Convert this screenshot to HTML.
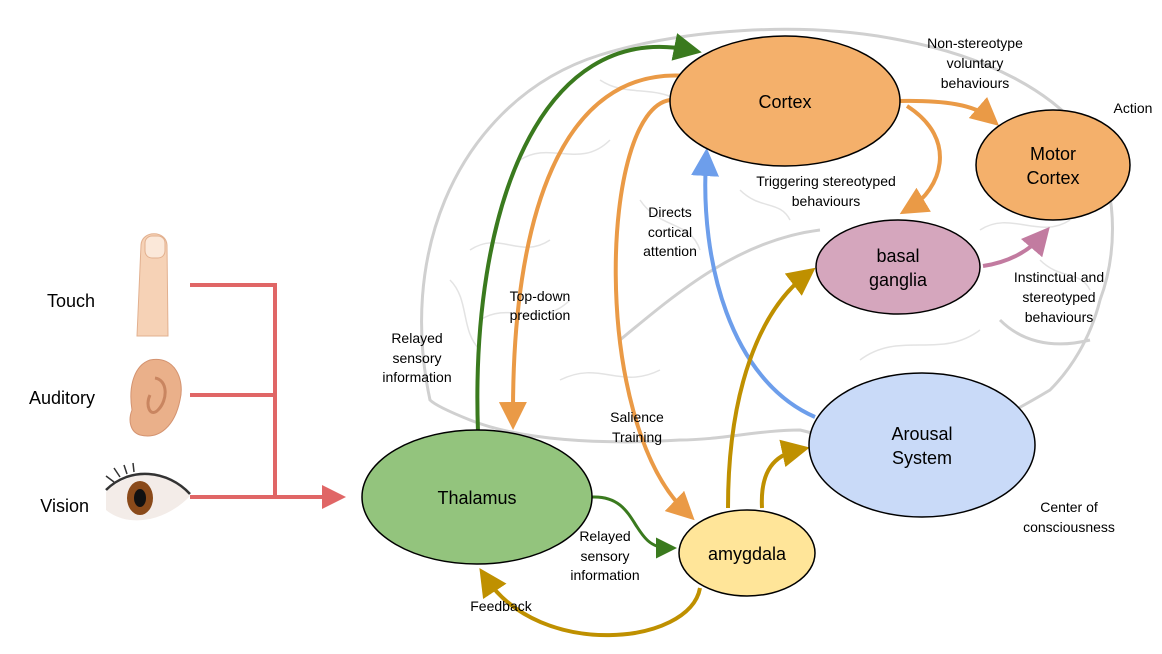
<!DOCTYPE html>
<html><head><meta charset="utf-8"><style>
html,body{margin:0;padding:0;background:#fff;}
svg{display:block;font-family:"Liberation Sans",Arial,sans-serif;}
</style></head><body>
<svg width="1162" height="654" viewBox="0 0 1162 654" xmlns="http://www.w3.org/2000/svg">
<defs>
<marker id="aG" markerWidth="7" markerHeight="7" refX="4" refY="3.5" orient="auto" markerUnits="strokeWidth"><path d="M0,0 L7,3.5 L0,7 Z" fill="#3a7a1e"/></marker>
<marker id="aO" markerWidth="7" markerHeight="7" refX="4" refY="3.5" orient="auto" markerUnits="strokeWidth"><path d="M0,0 L7,3.5 L0,7 Z" fill="#ea9a46"/></marker>
<marker id="aB" markerWidth="7" markerHeight="7" refX="4" refY="3.5" orient="auto" markerUnits="strokeWidth"><path d="M0,0 L7,3.5 L0,7 Z" fill="#6d9eeb"/></marker>
<marker id="aY" markerWidth="7" markerHeight="7" refX="4" refY="3.5" orient="auto" markerUnits="strokeWidth"><path d="M0,0 L7,3.5 L0,7 Z" fill="#bf9000"/></marker>
<marker id="aP" markerWidth="7" markerHeight="7" refX="4" refY="3.5" orient="auto" markerUnits="strokeWidth"><path d="M0,0 L7,3.5 L0,7 Z" fill="#c27ba0"/></marker>
<marker id="aR" markerWidth="6" markerHeight="6" refX="4" refY="3" orient="auto" markerUnits="strokeWidth"><path d="M0,0 L6,3 L0,6 Z" fill="#e06666"/></marker>
</defs>
<!-- brain outline -->
<g fill="none" stroke="#d0d0d0" stroke-width="3">
<path d="M430,400 C415,330 420,260 445,200 C470,140 520,80 600,55 C680,30 800,20 900,40 C980,55 1060,90 1095,150 C1120,200 1115,260 1100,300 C1090,340 1070,370 1050,390 C1000,420 960,440 920,440 C870,450 840,440 800,430 C760,430 720,440 680,440 C600,445 520,440 470,420 C450,412 435,405 430,400 Z"/>
<path d="M620,340 C680,290 740,240 820,230" />
<path d="M1000,320 C1020,340 1050,350 1090,340"/>
</g>
<g fill="none" stroke="#e3e3e3" stroke-width="1.5">
<path d="M470,250 C500,230 520,260 550,240 M480,320 C510,300 540,330 570,300 M520,160 C550,140 580,170 610,140 M640,200 C660,230 690,220 700,250 M560,380 C600,360 620,390 660,370 M860,360 C900,330 940,360 980,330 M980,230 C1010,210 1040,240 1070,220 M600,80 C630,100 660,80 690,110 M740,190 C760,210 780,200 790,220 M840,400 C870,380 900,400 930,380 M1040,260 C1060,280 1080,270 1090,290 M450,280 C470,300 460,330 480,350"/>
</g>
<!-- red lines -->
<g stroke="#e06666" stroke-width="4" fill="none">
<path d="M190,285 H275 V497"/>
<path d="M190,395 H275"/>
<path d="M190,497 H338" marker-end="url(#aR)"/>
</g>
<!-- finger -->
<path d="M137,336 L141,245 C142,230 166,230 167,245 L168,336 Z" fill="#f6d2b6" stroke="#e2b08f" stroke-width="1"/>
<rect x="145" y="236" width="20" height="22" rx="7" fill="#fbe8d9" stroke="#e2b08f"/>
<!-- ear -->
<path d="M150,360 C175,355 185,380 180,400 C175,425 160,440 140,435 C130,432 128,420 132,410 C128,385 135,365 150,360 Z" fill="#eab08a" stroke="#d49370"/>
<path d="M155,378 C168,380 168,400 158,410 C150,418 145,405 150,395" fill="none" stroke="#c98560" stroke-width="3"/>
<!-- eye -->
<path d="M106,492 C130,468 168,470 190,496 C165,522 128,528 106,510 Z" fill="#f3ece8"/>
<ellipse cx="140" cy="498" rx="13" ry="17" fill="#8a4a1a"/>
<ellipse cx="140" cy="498" rx="6" ry="9" fill="#111"/>
<path d="M106,490 C130,466 168,470 190,494" fill="none" stroke="#333" stroke-width="2.5"/>
<path d="M114,482 l-8,-6 M120,477 l-6,-9 M127,474 l-3,-9 M134,472 l-1,-9" stroke="#333" stroke-width="1.5"/>
<g font-size="18" fill="#000">
<text x="95" y="307" text-anchor="end">Touch</text>
<text x="95" y="404" text-anchor="end">Auditory</text>
<text x="89" y="512" text-anchor="end">Vision</text>
</g>
<!-- connectors -->
<g fill="none" stroke-width="4">
<path d="M478,432 C470,210 540,20 690,50" stroke="#3a7a1e" marker-end="url(#aG)"/>
<path d="M688,76 C560,65 512,220 513,418" stroke="#ea9a46" marker-end="url(#aO)"/>
<path d="M670,100 C600,110 590,420 686,512" stroke="#ea9a46" marker-end="url(#aO)"/>
<path d="M815,417 C730,380 700,260 706,160" stroke="#6d9eeb" marker-end="url(#aB)"/>
<path d="M898,101 C945,100 975,105 990,118" stroke="#ea9a46" marker-end="url(#aO)"/>
<path d="M907,106 C960,140 940,190 910,208" stroke="#ea9a46" marker-end="url(#aO)"/>
<path d="M983,266 C1010,262 1030,250 1042,236" stroke="#c27ba0" marker-end="url(#aP)"/>
<path d="M728,508 C728,390 760,310 806,275" stroke="#bf9000" marker-end="url(#aY)"/>
<path d="M762,508 C760,470 775,455 798,450" stroke="#bf9000" marker-end="url(#aY)"/>
<path d="M700,588 C690,645 540,660 486,578" stroke="#bf9000" marker-end="url(#aY)"/>
</g>
<path d="M592,497 C640,495 630,548 668,548" fill="none" stroke="#3a7a1e" stroke-width="3" marker-end="url(#aG)"/>
<!-- nodes -->
<g stroke="#000" stroke-width="1.5">
<ellipse cx="785" cy="101" rx="115" ry="65" fill="#f4b06b"/>
<ellipse cx="1053" cy="165" rx="77" ry="55" fill="#f4b06b"/>
<ellipse cx="898" cy="267" rx="82" ry="47" fill="#d5a6bd"/>
<ellipse cx="922" cy="445" rx="113" ry="72" fill="#c9daf8"/>
<ellipse cx="477" cy="497" rx="115" ry="67" fill="#93c47d"/>
<ellipse cx="747" cy="553" rx="68" ry="43" fill="#ffe599"/>
</g>
<g font-size="18" fill="#000" text-anchor="middle">
<text x="785" y="108">Cortex</text>
<text x="1053" y="160">Motor</text><text x="1053" y="184">Cortex</text>
<text x="898" y="262">basal</text><text x="898" y="286">ganglia</text>
<text x="922" y="440">Arousal</text><text x="922" y="464">System</text>
<text x="477" y="504">Thalamus</text>
<text x="747" y="560">amygdala</text>
</g>
<g font-size="14" fill="#000" text-anchor="middle">
<text x="975" y="48">Non-stereotype</text><text x="975" y="68">voluntary</text><text x="975" y="88">behaviours</text>
<text x="1133" y="113">Action</text>
<text x="826" y="186">Triggering stereotyped</text><text x="826" y="206">behaviours</text>
<text x="670" y="217">Directs</text><text x="670" y="237">cortical</text><text x="670" y="256">attention</text>
<text x="540" y="301">Top-down</text><text x="540" y="320">prediction</text>
<text x="417" y="343">Relayed</text><text x="417" y="363">sensory</text><text x="417" y="382">information</text>
<text x="1059" y="282">Instinctual and</text><text x="1059" y="302">stereotyped</text><text x="1059" y="322">behaviours</text>
<text x="637" y="422">Salience</text><text x="637" y="442">Training</text>
<text x="605" y="541">Relayed</text><text x="605" y="561">sensory</text><text x="605" y="580">information</text>
<text x="1069" y="512">Center of</text><text x="1069" y="532">consciousness</text>
<text x="501" y="611">Feedback</text>
</g>
</svg>
</body></html>
